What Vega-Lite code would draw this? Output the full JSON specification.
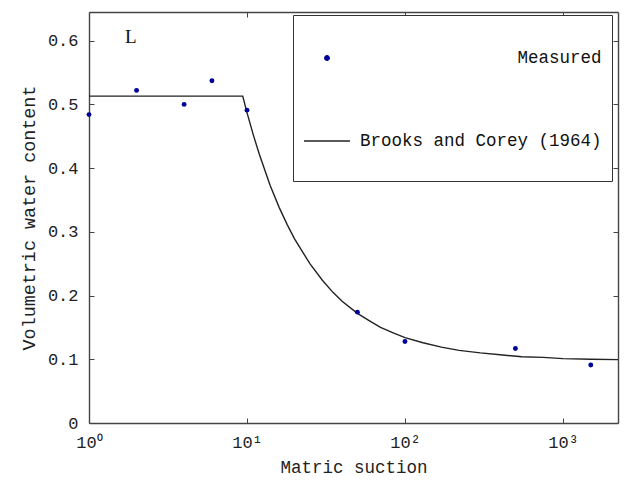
{
  "$schema": "https://vega.github.io/schema/vega-lite/v6.json",
  "width": 529,
  "height": 411,
  "autosize": {"type": "none"},
  "padding": {"left": 89, "top": 12, "right": 11, "bottom": 57},
  "background": "white",
  "config": {
    "view": {"stroke": null},
    "font": "Liberation Mono",
    "axis": {
      "grid": false,
      "domainColor": "#444444",
      "domainWidth": 1.4,
      "tickColor": "#444444",
      "tickWidth": 1,
      "tickSize": -5,
      "labelFlush": false,
      "labelFont": "Liberation Mono",
      "labelFontSize": 17,
      "labelColor": "#222222",
      "titleFont": "Liberation Mono",
      "titleFontSize": 17.5,
      "titleFontWeight": "normal",
      "titleColor": "#222222"
    }
  },
  "datasets": {
    "measured": [
      {"suction": 1, "theta": 0.484, "series": "Measured"},
      {"suction": 2, "theta": 0.522, "series": "Measured"},
      {"suction": 4, "theta": 0.5, "series": "Measured"},
      {"suction": 6, "theta": 0.537, "series": "Measured"},
      {"suction": 10, "theta": 0.491, "series": "Measured"},
      {"suction": 50, "theta": 0.174, "series": "Measured"},
      {"suction": 100, "theta": 0.128, "series": "Measured"},
      {"suction": 500, "theta": 0.117, "series": "Measured"},
      {"suction": 1500, "theta": 0.091, "series": "Measured"}
    ],
    "fit": [
      {"suction": 1, "theta": 0.513, "series": "Brooks and Corey (1964)"},
      {"suction": 9.4, "theta": 0.513, "series": "Brooks and Corey (1964)"},
      {"suction": 10, "theta": 0.487, "series": "Brooks and Corey (1964)"},
      {"suction": 11, "theta": 0.451, "series": "Brooks and Corey (1964)"},
      {"suction": 12, "theta": 0.421, "series": "Brooks and Corey (1964)"},
      {"suction": 14, "theta": 0.373, "series": "Brooks and Corey (1964)"},
      {"suction": 16, "theta": 0.338, "series": "Brooks and Corey (1964)"},
      {"suction": 18, "theta": 0.311, "series": "Brooks and Corey (1964)"},
      {"suction": 20, "theta": 0.289, "series": "Brooks and Corey (1964)"},
      {"suction": 25, "theta": 0.25, "series": "Brooks and Corey (1964)"},
      {"suction": 30, "theta": 0.224, "series": "Brooks and Corey (1964)"},
      {"suction": 35, "theta": 0.205, "series": "Brooks and Corey (1964)"},
      {"suction": 40, "theta": 0.191, "series": "Brooks and Corey (1964)"},
      {"suction": 50, "theta": 0.172, "series": "Brooks and Corey (1964)"},
      {"suction": 60, "theta": 0.16, "series": "Brooks and Corey (1964)"},
      {"suction": 70, "theta": 0.15, "series": "Brooks and Corey (1964)"},
      {"suction": 85, "theta": 0.141, "series": "Brooks and Corey (1964)"},
      {"suction": 100, "theta": 0.134, "series": "Brooks and Corey (1964)"},
      {"suction": 130, "theta": 0.126, "series": "Brooks and Corey (1964)"},
      {"suction": 170, "theta": 0.119, "series": "Brooks and Corey (1964)"},
      {"suction": 220, "theta": 0.114, "series": "Brooks and Corey (1964)"},
      {"suction": 300, "theta": 0.11, "series": "Brooks and Corey (1964)"},
      {"suction": 400, "theta": 0.107, "series": "Brooks and Corey (1964)"},
      {"suction": 550, "theta": 0.104, "series": "Brooks and Corey (1964)"},
      {"suction": 750, "theta": 0.103, "series": "Brooks and Corey (1964)"},
      {"suction": 1000, "theta": 0.101, "series": "Brooks and Corey (1964)"},
      {"suction": 1500, "theta": 0.1, "series": "Brooks and Corey (1964)"},
      {"suction": 2230, "theta": 0.0995, "series": "Brooks and Corey (1964)"}
    ],
    "annot": [{"label": "L"}]
  },
  "layer": [
    {
      "data": {"name": "fit"},
      "mark": {"type": "line", "strokeWidth": 1.4, "clip": true},
      "encoding": {
        "x": {
          "field": "suction",
          "type": "quantitative",
          "scale": {"type": "log", "domain": [1, 2230], "nice": false},
          "axis": {
            "orient": "bottom",
            "values": [1, 10, 100, 1000],
            "labelPadding": 16,
            "labelExpr": "datum.value == 1 ? '10⁰' : datum.value == 10 ? '10¹' : datum.value == 100 ? '10²' : '10³'",
            "title": "Matric suction",
            "titlePadding": 8
          }
        },
        "y": {
          "field": "theta",
          "type": "quantitative",
          "scale": {"domain": [0, 0.645], "nice": false, "zero": false},
          "axis": {
            "orient": "left",
            "values": [0, 0.1, 0.2, 0.3, 0.4, 0.5, 0.6],
            "labelPadding": 16,
            "labelExpr": "datum.value == 0 ? '0' : format(datum.value, '.1f')",
            "title": "Volumetric water content",
            "titleFontSize": 18.4,
            "titlePadding": 9
          }
        },
        "color": {
          "field": "series",
          "type": "nominal",
          "scale": {"domain": ["Measured", "Brooks and Corey (1964)"], "range": ["#000099", "#222222"]},
          "legend": {
            "orient": "none",
            "legendX": 204,
            "legendY": 3,
            "direction": "vertical",
            "title": " ",
            "titleFontSize": 1,
            "titlePadding": 8,
            "padding": 10,
            "strokeColor": "#333333",
            "fillColor": "white",
            "rowPadding": 22,
            "symbolSize": 2116,
            "symbolStrokeWidth": 1.3,
            "labelFont": "Liberation Mono",
            "labelFontSize": 17.5,
            "labelColor": "#111111",
            "labelOffset": 9,
            "labelLimit": 400,
            "labelExpr": "[' ', datum.label, ' ']",
            "encode": {
              "symbols": {
                "update": {
                  "shape": {"signal": "datum.value == 'Measured' ? 'M-0.1,0A0.1,0.1 0 1,0 0.1,0A0.1,0.1 0 1,0 -0.1,0Z' : 'stroke'"},
                  "fill": {"signal": "datum.value == 'Measured' ? '#000099' : 'transparent'"},
                  "stroke": {"signal": "datum.value == 'Measured' ? 'transparent' : '#222222'"},
                  "strokeWidth": {"value": 1.3},
                  "opacity": {"value": 1}
                }
              },
              "labels": {
                "update": {
                  "lineHeight": {"value": 21.3},
                  "dy": {"value": -21.3},
                  "align": {"signal": "datum.value == 'Measured' ? 'right' : 'left'"},
                  "dx": {"signal": "datum.value == 'Measured' ? 241.5 : 0"}
                }
              }
            }
          }
        }
      }
    },
    {
      "data": {"name": "measured"},
      "mark": {"type": "point", "filled": true, "size": 24, "opacity": 1},
      "encoding": {
        "x": {
          "field": "suction",
          "type": "quantitative",
          "axis": {"orient": "top", "values": [1, 10, 100, 1000], "labels": false, "title": null}
        },
        "y": {
          "field": "theta",
          "type": "quantitative",
          "axis": {"orient": "right", "values": [0, 0.1, 0.2, 0.3, 0.4, 0.5, 0.6], "labels": false, "title": null}
        },
        "color": {"field": "series", "type": "nominal"}
      }
    },
    {
      "data": {"name": "annot"},
      "mark": {"type": "text", "font": "Liberation Serif", "fontSize": 19, "align": "center", "baseline": "middle", "color": "#111111"},
      "encoding": {
        "x": {"datum": 1.84, "type": "quantitative", "axis": null},
        "y": {"datum": 0.606, "type": "quantitative", "axis": null},
        "text": {"field": "label"}
      }
    }
  ],
  "resolve": {"axis": {"x": "independent", "y": "independent"}}
}
